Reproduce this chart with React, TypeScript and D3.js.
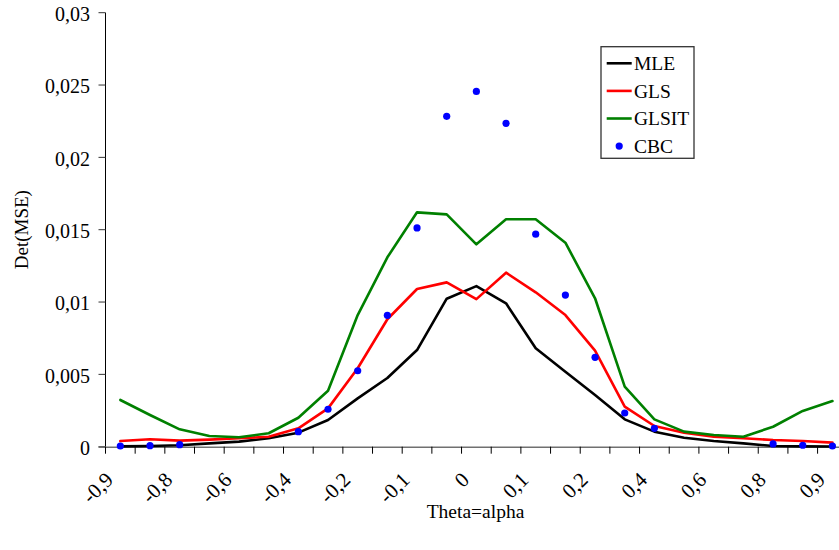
import React from "react";
import * as d3 from "d3";

// Category axis: every other category carries a label
const categoryLabels = [
  "-0,9", "", "-0,8", "", "-0,6", "", "-0,4", "", "-0,2", "", "-0,1", "", "0",
  "", "0,1", "", "0,2", "", "0,4", "", "0,6", "", "0,8", "", "0,9",
];

const mleValues = [
  0.00002, 0.00005, 0.0001, 0.00023, 0.00035, 0.00058, 0.00097, 0.00185, 0.00334,
  0.00475, 0.00668, 0.01023, 0.0111, 0.00991, 0.0068, 0.00518, 0.00357, 0.00189,
  0.00104, 0.00062, 0.00039, 0.00023, 0.00005, 0.00002, 0.00001,
];
const glsValues = [
  0.00039, 0.00051, 0.00042, 0.00049, 0.00058, 0.00069, 0.00127, 0.00265, 0.00542,
  0.00881, 0.0109, 0.01136, 0.0102, 0.01203, 0.01067, 0.0091, 0.00664, 0.00277,
  0.00143, 0.00097, 0.00069, 0.00058, 0.00046, 0.00039, 0.00028,
];
const glsitValues = [
  0.00323, 0.00219, 0.0012, 0.00074, 0.00065, 0.00093, 0.002, 0.00387, 0.0091,
  0.01309, 0.0162, 0.01606, 0.01399, 0.01572, 0.01572, 0.0141, 0.01026, 0.00415,
  0.00189, 0.00104, 0.00081, 0.00069, 0.00138, 0.00247, 0.00316,
];
const cbcValues: (number | null)[] = [
  0.00005, 0.00007, 0.00014, null, null, null, 0.00104, 0.00259, 0.00525,
  0.00908, 0.01512, 0.02284, 0.02456, 0.02235, 0.01469, 0.01048, 0.00618, 0.00233,
  0.00127, null, null, null, 0.00019, 0.0001, 0.00005,
];

const yTicks = [0, 0.005, 0.01, 0.015, 0.02, 0.025, 0.03];

const lineSeries = [
  { name: "MLE", values: mleValues, color: "#000000" },
  { name: "GLS", values: glsValues, color: "#ff0000" },
  { name: "GLSIT", values: glsitValues, color: "#008000" },
];

const FONT = "Liberation Serif, Times New Roman, serif";
const fmt = (v: number) => String(v).replace(".", ",");

export default function App() {
  const width = 839;
  const height = 550;
  const left = 105.5;
  const top = 12.7;
  const bottom = 446.7;
  const step = 29.67;
  const n = categoryLabels.length;

  const x = d3
    .scaleBand<number>()
    .domain(d3.range(n))
    .range([left, left + step * n])
    .paddingInner(0)
    .paddingOuter(0);
  const cx = (i: number) => (x(i) as number) + x.bandwidth() / 2;

  const y = d3.scaleLinear().domain([0, 0.03]).range([bottom, top]);

  const line = d3
    .line<number>()
    .x((_, i) => cx(i))
    .y((d) => y(d));

  const tickPositions = d3.range(n + 1).map((i) => left + step * i);

  return (
    <svg
      width={width}
      height={height}
      style={{ position: "absolute", left: 0, top: 0, background: "#fff", fontFamily: FONT }}
    >
      <rect width={width} height={height} fill="#fff" />

      {/* y axis */}
      <line x1={left} x2={left} y1={top} y2={bottom} stroke="#000" strokeWidth={1} />
      {yTicks.map((t) => (
        <g key={t}>
          <line x1={left - 7} x2={left} y1={y(t)} y2={y(t)} stroke="#333" strokeWidth={1} />
          <text x={90} y={y(t) + 8.3} textAnchor="end" fontSize={20} fill="#000">
            {fmt(t)}
          </text>
        </g>
      ))}

      {/* x axis */}
      <line
        x1={left - 7}
        x2={left + step * n}
        y1={bottom + 0.5}
        y2={bottom + 0.5}
        stroke="#707070"
        strokeWidth={1.6}
      />
      {tickPositions.map((p, i) => (
        <line key={i} x1={p} x2={p} y1={bottom} y2={bottom + 7} stroke="#000" strokeWidth={1} />
      ))}
      {categoryLabels.map((lab, i) =>
        lab ? (
          <text
            key={i}
            transform={`translate(${cx(i) - 6},${481}) rotate(-45)`}
            textAnchor="end"
            fontSize={21}
            fill="#000"
          >
            {lab}
          </text>
        ) : null
      )}

      {/* series lines */}
      {lineSeries.map((s) => (
        <path
          key={s.name}
          d={line(s.values) || ""}
          fill="none"
          stroke={s.color}
          strokeWidth={2.6}
          strokeLinejoin="round"
          strokeLinecap="round"
        />
      ))}

      {/* CBC markers */}
      {cbcValues.map((v, i) =>
        v === null ? null : <circle key={i} cx={cx(i)} cy={y(v)} r={3.6} fill="#0000ff" />
      )}

      {/* axis titles */}
      <text
        transform={`translate(28,${(top + bottom) / 2}) rotate(-90)`}
        textAnchor="middle"
        fontSize={19}
        fill="#000"
      >
        Det(MSE)
      </text>
      <text x={475.5} y={518} textAnchor="middle" fontSize={19.5} fill="#000">
        Theta=alpha
      </text>

      {/* legend */}
      <rect x={601} y={46.7} width={93} height={111.6} fill="#fff" stroke="#333" strokeWidth={1.3} />
      {lineSeries.map((s, i) => {
        const ry = 63.3 + i * 27.6;
        return (
          <g key={s.name}>
            <line x1={606.7} x2={631.7} y1={ry} y2={ry} stroke={s.color} strokeWidth={2.6} />
            <text x={634} y={ry + 6.6} fontSize={19.5} fill="#000">
              {s.name}
            </text>
          </g>
        );
      })}
      <circle cx={619.2} cy={63.3 + 3 * 27.6} r={3.6} fill="#0000ff" />
      <text x={634} y={63.3 + 3 * 27.6 + 6.6} fontSize={19.5} fill="#000">
        CBC
      </text>
    </svg>
  );
}
